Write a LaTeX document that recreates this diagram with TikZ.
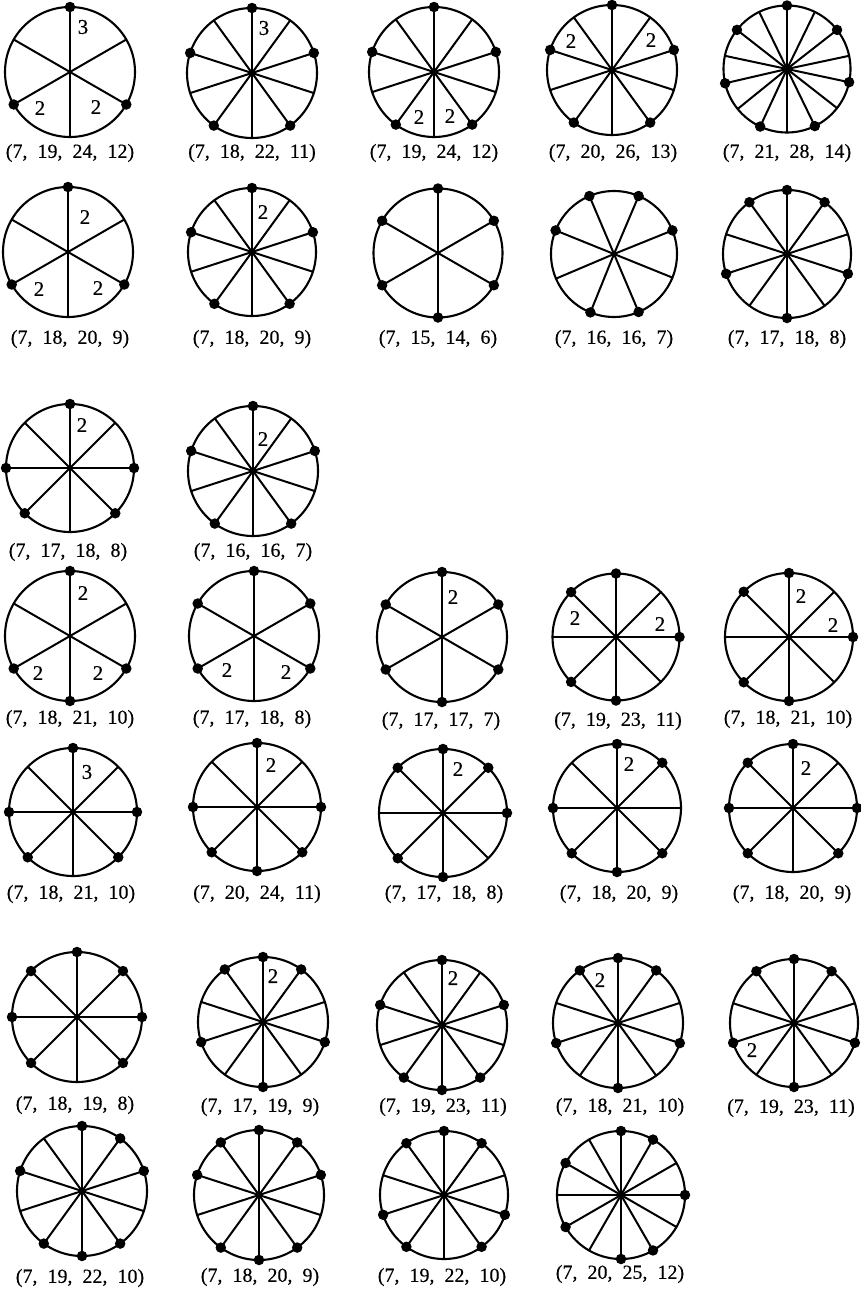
\documentclass[tikz,border=0pt]{standalone}
\usepackage{fontspec}
\setmainfont{Liberation Serif}
\newfontfamily\inkfont[FakeBold=0.35]{Liberation Serif}
\newcommand{\capfont}{\inkfont\fontsize{20}{22}\selectfont}
\newcommand{\numfont}{\inkfont\fontsize{21}{23}\selectfont}
\newcommand{\capline}[1]{\begingroup\spaceskip=10pt\relax #1\endgroup}
\tikzset{
  rim/.style={circle,draw=black,line width=2.1pt,inner sep=0pt,outer sep=0pt},
  spoke/.style={draw=black,line width=2pt,line cap=round},
  rimdot/.style={circle,fill=black,inner sep=0pt,outer sep=0pt,minimum size=10.5pt},
  captxt/.style={inner sep=0pt,yshift=-1pt,font=\capfont},
  num/.style={inner sep=0pt,font=\numfont}
}
% name, cx, cy, r, n, start angle, spoke indices with a dot
\newcommand{\wheel}[7]{%
  \node[rim,minimum size=#4*2pt] (#1) at (#2,#3) {};
  \foreach \i in {1,...,#5}{%
    \pgfmathsetmacro{\a}{#6-(\i-1)*360/#5}
    \draw[spoke] (#1.center) -- (#1.\a);
  }
  \foreach \i in {#7}{%
    \pgfmathsetmacro{\a}{#6-\i*360/#5}
    \node[rimdot] (#1d\i) at (#1.\a) {};
  }
}
\begin{document}
\begin{tikzpicture}[x=1pt,y=-1pt]
\useasboundingbox (0,0) rectangle (861,1293);
\fill[white] (0,0) rectangle (861,1293);
% row 1
\wheel{w1}{70}{72}{65}{6}{90}{0,2,4}
\node[captxt] (w1t) at (70,152) {\capline{(7, 19, 24, 12)}};
\node[num] (w1a) at (83,27) {3};
\node[num] (w1b) at (40,108) {2};
\node[num] (w1c) at (96,107) {2};
\wheel{w2}{252}{73}{65}{10}{90}{0,2,4,6,8}
\node[captxt] (w2t) at (252,152) {\capline{(7, 18, 22, 11)}};
\node[num] (w2a) at (264,28) {3};
\wheel{w3}{434}{72}{65}{10}{90}{0,2,4,6,8}
\node[captxt] (w3t) at (434,152) {\capline{(7, 19, 24, 12)}};
\node[num] (w3a) at (419,117) {2};
\node[num] (w3b) at (450,116) {2};
\wheel{w4}{612}{70}{65}{10}{90}{0,2,4,6,8}
\node[captxt] (w4t) at (613,152) {\capline{(7, 20, 26, 13)}};
\node[num] (w4a) at (571,41) {2};
\node[num] (w4b) at (651,40) {2};
\wheel{w5}{787}{69}{63.5}{14}{90}{0,2,4,6,8,10,12}
\node[captxt] (w5t) at (787,152) {\capline{(7, 21, 28, 14)}};
% row 2
\wheel{w6}{68}{252}{65}{6}{90}{0,2,4}
\node[captxt] (w6t) at (70,338) {\capline{(7, 18, 20, 9)}};
\node[num] (w6a) at (85,217) {2};
\node[num] (w6b) at (39,289) {2};
\node[num] (w6c) at (98,288) {2};
\wheel{w7}{252}{252}{64}{10}{90}{0,2,4,6,8}
\node[captxt] (w7t) at (252,338) {\capline{(7, 18, 20, 9)}};
\node[num] (w7a) at (263,212) {2};
\wheel{w8}{438}{253}{64.5}{6}{90}{0,1,2,3,4,5}
\node[captxt] (w8t) at (438,338) {\capline{(7, 15, 14, 6)}};
\wheel{w9}{614}{254}{63}{8}{67.5}{0,1,3,4,6,7}
\node[captxt] (w9t) at (614,338) {\capline{(7, 16, 16, 7)}};
\wheel{w10}{787}{254}{64}{10}{90}{0,1,3,5,7,9}
\node[captxt] (w10t) at (787,338) {\capline{(7, 17, 18, 8)}};
% row 3
\wheel{w11}{70}{468}{64}{8}{90}{0,2,3,5,6}
\node[captxt] (w11t) at (68,551) {\capline{(7, 17, 18, 8)}};
\node[num] (w11a) at (82,425) {2};
\wheel{w12}{253}{471}{65}{10}{90}{0,2,4,6,8}
\node[captxt] (w12t) at (253,551) {\capline{(7, 16, 16, 7)}};
\node[num] (w12a) at (263,439) {2};
% row 4
\wheel{w13}{70}{636}{65}{6}{90}{0,2,3,4}
\node[captxt] (w13t) at (70,718) {\capline{(7, 18, 21, 10)}};
\node[num] (w13a) at (83,593) {2};
\node[num] (w13b) at (38,673) {2};
\node[num] (w13c) at (98,673) {2};
\wheel{w14}{254}{636}{65}{6}{90}{0,1,2,4,5}
\node[captxt] (w14t) at (252,718) {\capline{(7, 17, 18, 8)}};
\node[num] (w14a) at (227,670) {2};
\node[num] (w14b) at (286,672) {2};
\wheel{w15}{442}{637}{65}{6}{90}{0,1,2,3,4,5}
\node[captxt] (w15t) at (441,720) {\capline{(7, 17, 17, 7)}};
\node[num] (w15a) at (453,597) {2};
\wheel{w16}{616}{637}{63.5}{8}{90}{0,2,4,5,7}
\node[captxt] (w16t) at (618,720) {\capline{(7, 19, 23, 11)}};
\node[num] (w16a) at (575,618) {2};
\node[num] (w16b) at (660,624) {2};
\wheel{w17}{789}{637}{64}{8}{90}{0,2,4,5,7}
\node[captxt] (w17t) at (788,718) {\capline{(7, 18, 21, 10)}};
\node[num] (w17a) at (801,596) {2};
\node[num] (w17b) at (833,625) {2};
% row 5
\wheel{w18}{73}{812}{64}{8}{90}{0,2,3,5,6}
\node[captxt] (w18t) at (71,893) {\capline{(7, 18, 21, 10)}};
\node[num] (w18a) at (87,772) {3};
\wheel{w19}{257}{807}{64}{8}{90}{0,2,3,4,5,6}
\node[captxt] (w19t) at (257,893) {\capline{(7, 20, 24, 11)}};
\node[num] (w19a) at (271,765) {2};
\wheel{w20}{443}{813}{64}{8}{90}{0,1,2,4,5,7}
\node[captxt] (w20t) at (444,893) {\capline{(7, 17, 18, 8)}};
\node[num] (w20a) at (458,769) {2};
\wheel{w21}{617}{808}{64}{8}{90}{0,1,3,4,5,6}
\node[captxt] (w21t) at (619,893) {\capline{(7, 18, 20, 9)}};
\node[num] (w21a) at (629,764) {2};
\wheel{w22}{793}{808}{64}{8}{90}{0,2,3,5,6,7}
\node[captxt] (w22t) at (792,893) {\capline{(7, 18, 20, 9)}};
\node[num] (w22a) at (806,768) {2};
% row 6
\wheel{w23}{77}{1017}{65}{8}{90}{0,1,2,3,5,6,7}
\node[captxt] (w23t) at (75,1104) {\capline{(7, 18, 19, 8)}};
\wheel{w24}{263}{1022}{65}{10}{90}{0,1,3,5,7,9}
\node[captxt] (w24t) at (260,1106) {\capline{(7, 17, 19, 9)}};
\node[num] (w24a) at (273,976) {2};
\wheel{w25}{442}{1025}{65}{10}{90}{0,2,4,5,6,8}
\node[captxt] (w25t) at (443,1106) {\capline{(7, 19, 23, 11)}};
\node[num] (w25a) at (453,978) {2};
\wheel{w26}{618}{1023}{65}{10}{90}{0,1,3,5,7,9}
\node[captxt] (w26t) at (620,1106) {\capline{(7, 18, 21, 10)}};
\node[num] (w26a) at (600,980) {2};
\wheel{w27}{794}{1023}{64}{10}{90}{0,1,3,5,7,9}
\node[captxt] (w27t) at (791,1107) {\capline{(7, 19, 23, 11)}};
\node[num] (w27a) at (752,1050) {2};
% row 7
\wheel{w28}{82}{1191}{65}{10}{90}{0,1,2,4,5,6,8}
\node[captxt] (w28t) at (80,1277) {\capline{(7, 19, 22, 10)}};
\wheel{w29}{259}{1195}{65}{10}{90}{0,1,2,4,5,6,8,9}
\node[captxt] (w29t) at (260,1276) {\capline{(7, 18, 20, 9)}};
\wheel{w30}{444}{1195}{64}{10}{90}{0,1,3,4,6,7,9}
\node[captxt] (w30t) at (442,1276) {\capline{(7, 19, 22, 10)}};
\wheel{w31}{621}{1195}{64}{12}{90}{0,1,3,5,6,8,10}
\node[captxt] (w31t) at (620,1273) {\capline{(7, 20, 25, 12)}};
\end{tikzpicture}
\end{document}
